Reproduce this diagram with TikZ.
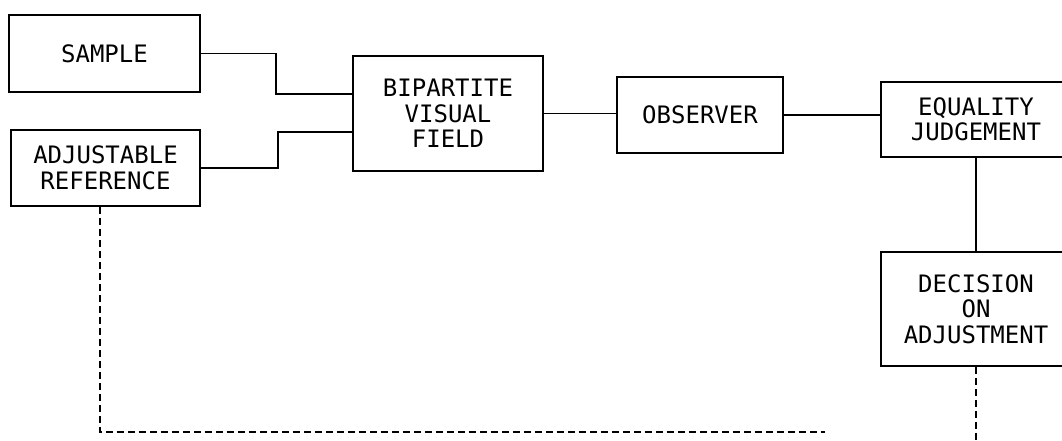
\documentclass[tikz,border=0pt]{standalone}
\usepackage{fontspec}
\newfontfamily\plotfont{DejaVu Sans Mono}
\begin{document}
\begin{tikzpicture}[x=1pt,y=1pt,
  box/.style={draw=black, line width=1.5pt, rectangle, align=center, inner sep=0pt,
    font=\plotfont\fontsize{24}{25.5}\selectfont},
  link/.style={draw=black, line width=1.5pt},
  dlink/.style={draw=black, line width=1.5pt, dash pattern=on 7pt off 4pt}]
\useasboundingbox (0,0) rectangle (1062,-441);
\clip (0,0) rectangle (1062,-441);
\fill[white] (0,0) rectangle (1062,-441);
\node[box, minimum width=191pt, minimum height=77pt] (sample) at (104.5,-53.5) {SAMPLE};
\node[box, minimum width=189pt, minimum height=76pt] (adj) at (105.5,-168) {ADJUSTABLE\\REFERENCE};
\node[box, minimum width=190pt, minimum height=115pt] (bip) at (448,-113.5) {BIPARTITE\\VISUAL\\FIELD};
\node[box, minimum width=166pt, minimum height=76pt] (obs) at (700,-115) {OBSERVER};
\node[box, minimum width=190pt, minimum height=75pt] (eq) at (976,-119.5) {EQUALITY\\JUDGEMENT};
\node[box, minimum width=190pt, minimum height=114pt] (dec) at (976,-309) {DECISION\\ON\\ADJUSTMENT};
\coordinate (dend) at (976,-445);
\coordinate (hend) at (825,-432);
\draw[link] (sample.east) -- (276,-53.5) |- ([yshift=19.5pt]bip.west);
\draw[link] (adj.east) -- (278,-168) |- ([yshift=-18.5pt]bip.west);
\draw[link] (bip.east) -- (bip.east -| obs.west);
\draw[link] (obs.east) -- (obs.east -| eq.west);
\draw[link] (eq.south) -- (dec.north);
\draw[dlink] ([xshift=-5.5pt]adj.south) -- (100,-432) -- (hend);
\draw[dlink] (dec.south) -- (dend);
\end{tikzpicture}
\end{document}
